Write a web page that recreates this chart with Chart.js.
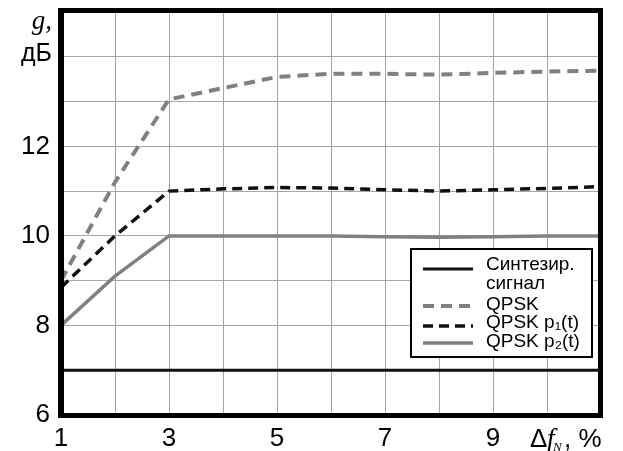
<!DOCTYPE html>
<html>
<head>
<meta charset="utf-8">
<script src="https://cdn.jsdelivr.net/npm/chart.js@4.4.0/dist/chart.umd.min.js"></script>
<style>
  body { margin: 0; background: #fff; }
  #caixa { width: 623px; height: 451px; }
</style>
</head>
<body>
<div id="caixa"><canvas id="meuGrafico" width="623" height="451"></canvas></div>
<script>
const valoresX = [1, 2, 3, 4, 5, 6, 7, 8, 9, 10, 11];
const sintezir = [7, 7, 7, 7, 7, 7, 7, 7, 7, 7, 7];
const qpsk = [9.0, 11.2, 13.05, 13.3, 13.55, 13.62, 13.62, 13.6, 13.64, 13.67, 13.69];
const qpskP1 = [8.85, 10.0, 11.0, 11.05, 11.08, 11.07, 11.03, 11.0, 11.03, 11.06, 11.1];
const qpskP2 = [8.0, 9.1, 10.0, 10.0, 10.0, 10.0, 9.98, 9.97, 9.98, 10.0, 10.0];
const nomesSeries = ["Синтезир.\nсигнал", "QPSK", "QPSK p₁(t)", "QPSK p₂(t)"];
const ticksX = [1, 3, 5, 7, 9];
const ticksY = [6, 8, 10, 12];

const fonteSans = '"Liberation Sans", Arial, "DejaVu Sans", sans-serif';
const fonteSerif = '"Liberation Serif", "Times New Roman", serif';

function pontos(valores) {
  return valoresX.map((x, i) => ({ x: x, y: valores[i] }));
}

// moldura, titulos dos eixos e legenda desenhados por cima
const extras = {
  id: "extras",
  afterDraw(chart) {
    const ctx = chart.ctx;
    ctx.save();

    ctx.fillStyle = "#000";
    ctx.fillRect(58, 8, 6, 410);
    ctx.fillRect(58, 8, 545, 5);
    ctx.fillRect(58, 413, 545, 5);
    ctx.fillRect(598, 8, 5, 410);

    // titulo do eixo Y
    ctx.textBaseline = "alphabetic";
    ctx.textAlign = "right";
    ctx.font = "italic 27px " + fonteSerif;
    ctx.fillText("g,", 52, 29);
    ctx.font = "25px " + fonteSans;
    ctx.fillText("дБ", 52, 61);

    // titulo do eixo X
    ctx.textAlign = "left";
    ctx.font = "26px " + fonteSans;
    ctx.fillText("Δ", 530, 447);
    ctx.font = "italic 27px " + fonteSerif;
    ctx.fillText("f", 547, 447);
    ctx.font = "italic 13px " + fonteSerif;
    ctx.fillText("N", 553, 451);
    ctx.font = "26px " + fonteSans;
    ctx.fillText(", %", 564, 447);

    // legenda
    ctx.fillStyle = "#fff";
    ctx.fillRect(411, 249, 181, 108);
    ctx.strokeStyle = "#000";
    ctx.lineWidth = 2;
    ctx.strokeRect(411, 249, 181, 108);

    const linhasY = [269, 306, 326, 343];
    const textosY = [[265, 284], [305], [323], [342]];
    chart.data.datasets.forEach((ds, i) => {
      ctx.beginPath();
      ctx.strokeStyle = ds.borderColor;
      ctx.lineWidth = ds.borderWidth;
      ctx.setLineDash(ds.borderDash || []);
      ctx.moveTo(423, linhasY[i]);
      ctx.lineTo(473, linhasY[i]);
      ctx.stroke();
      ctx.setLineDash([]);

      ctx.fillStyle = "#000";
      ctx.font = "19px " + fonteSans;
      ctx.textBaseline = "middle";
      ds.label.split("\n").forEach((t, k) => {
        ctx.fillText(t, 486, textosY[i][k]);
      });
    });

    ctx.restore();
  }
};

const ctx = document.getElementById("meuGrafico").getContext("2d");

const meuGrafico = new Chart(ctx, {
  type: "line",
  data: {
    datasets: [
      {
        label: nomesSeries[0],
        data: pontos(sintezir),
        borderColor: "#111",
        borderWidth: 3,
      },
      {
        label: nomesSeries[1],
        data: pontos(qpsk),
        borderColor: "#808080",
        borderWidth: 4,
        borderDash: [11, 7],
      },
      {
        label: nomesSeries[2],
        data: pontos(qpskP1),
        borderColor: "#111",
        borderWidth: 3.5,
        borderDash: [10, 6],
      },
      {
        label: nomesSeries[3],
        data: pontos(qpskP2),
        borderColor: "#808080",
        borderWidth: 3.5,
      },
    ],
  },
  options: {
    responsive: false,
    animation: false,
    layout: { padding: { top: 12, right: 22, left: 0, bottom: 0 } },
    elements: { point: { radius: 0 }, line: { tension: 0 } },
    plugins: {
      legend: { display: false },
      tooltip: { enabled: false },
    },
    scales: {
      x: {
        type: "linear",
        min: 1,
        max: 11,
        afterFit: (s) => { s.height = 36; s.paddingLeft = 0; s.paddingRight = 0; },
        border: { display: false },
        grid: { color: "#a6a6a6", lineWidth: 1, drawTicks: false },
        ticks: {
          stepSize: 1,
          autoSkip: false,
          maxRotation: 0,
          padding: 8,
          color: "#000",
          font: { family: fonteSans, size: 26 },
          callback: (v) => (ticksX.includes(v) ? v : ""),
        },
      },
      y: {
        min: 6,
        max: 15,
        afterFit: (s) => { s.width = 61; s.paddingTop = 0; s.paddingBottom = 0; },
        border: { display: false },
        grid: { color: "#a6a6a6", lineWidth: 1, drawTicks: false },
        ticks: {
          stepSize: 1,
          autoSkip: false,
          padding: 11,
          color: "#000",
          font: { family: fonteSans, size: 26 },
          callback: (v) => (ticksY.includes(v) ? v : ""),
        },
      },
    },
  },
  plugins: [extras],
});
</script>
</body>
</html>
